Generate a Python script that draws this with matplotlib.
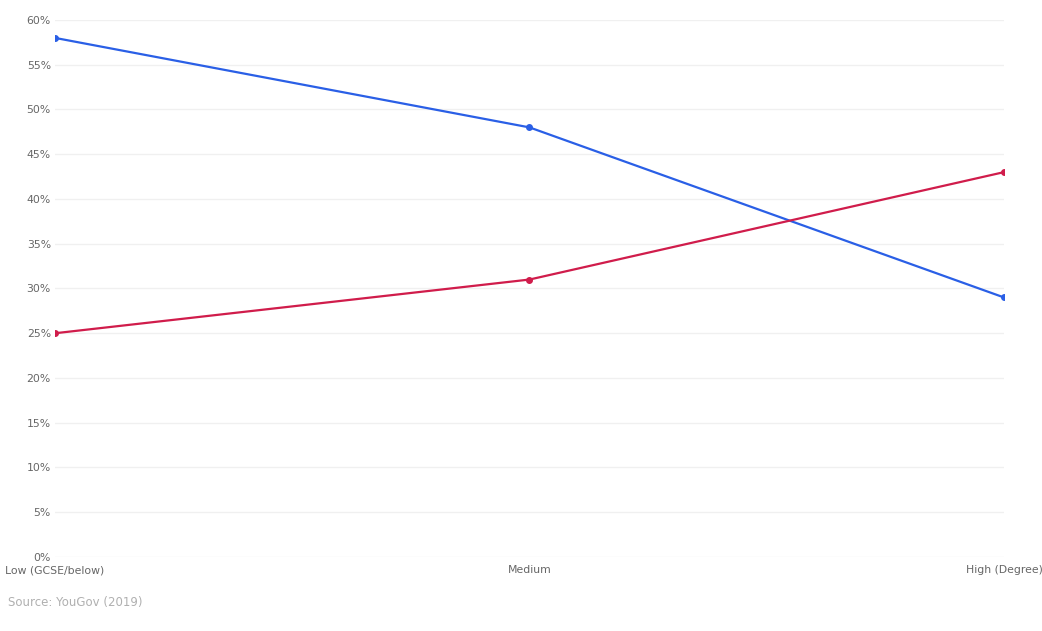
import matplotlib.pyplot as plt

# education level vs share (%)
categories = ['Low (GCSE/below)', 'Medium', 'High (Degree)']
blue_vals = [58, 48, 29]
red_vals = [25, 31, 43]
yticks = [0, 5, 10, 15, 20, 25, 30, 35, 40, 45, 50, 55, 60]

fig = plt.figure(figsize=(10.42, 6.31), dpi=100)
ax = fig.add_axes([0.0528, 0.1173, 0.9107, 0.851])

x = range(len(categories))
ax.plot(x, blue_vals, color='#2a5fe6', lw=1.6, marker='o', ms=4, zorder=3)
ax.plot(x, red_vals, color='#d01c4b', lw=1.6, marker='o', ms=4, zorder=3)

ax.set_xlim(0, 2)
ax.set_ylim(0, 60)
ax.set_yticks(yticks)
ax.set_yticklabels([f'{t}%' for t in yticks])
ax.set_xticks(list(x))
ax.set_xticklabels(categories)
ax.grid(axis='y', color='#f0f0f0', lw=1)
ax.set_axisbelow(True)
for s in ax.spines.values():
    s.set_visible(False)
ax.tick_params(axis='both', length=0, labelsize=7.8, labelcolor='#666666')
ax.tick_params(axis='y', pad=3)
ax.tick_params(axis='x', pad=6)

fig.text(0.008, 0.04, 'Source: YouGov (2019)', fontsize=8.5, color='#b0b0b0')

plt.savefig('out.png')
